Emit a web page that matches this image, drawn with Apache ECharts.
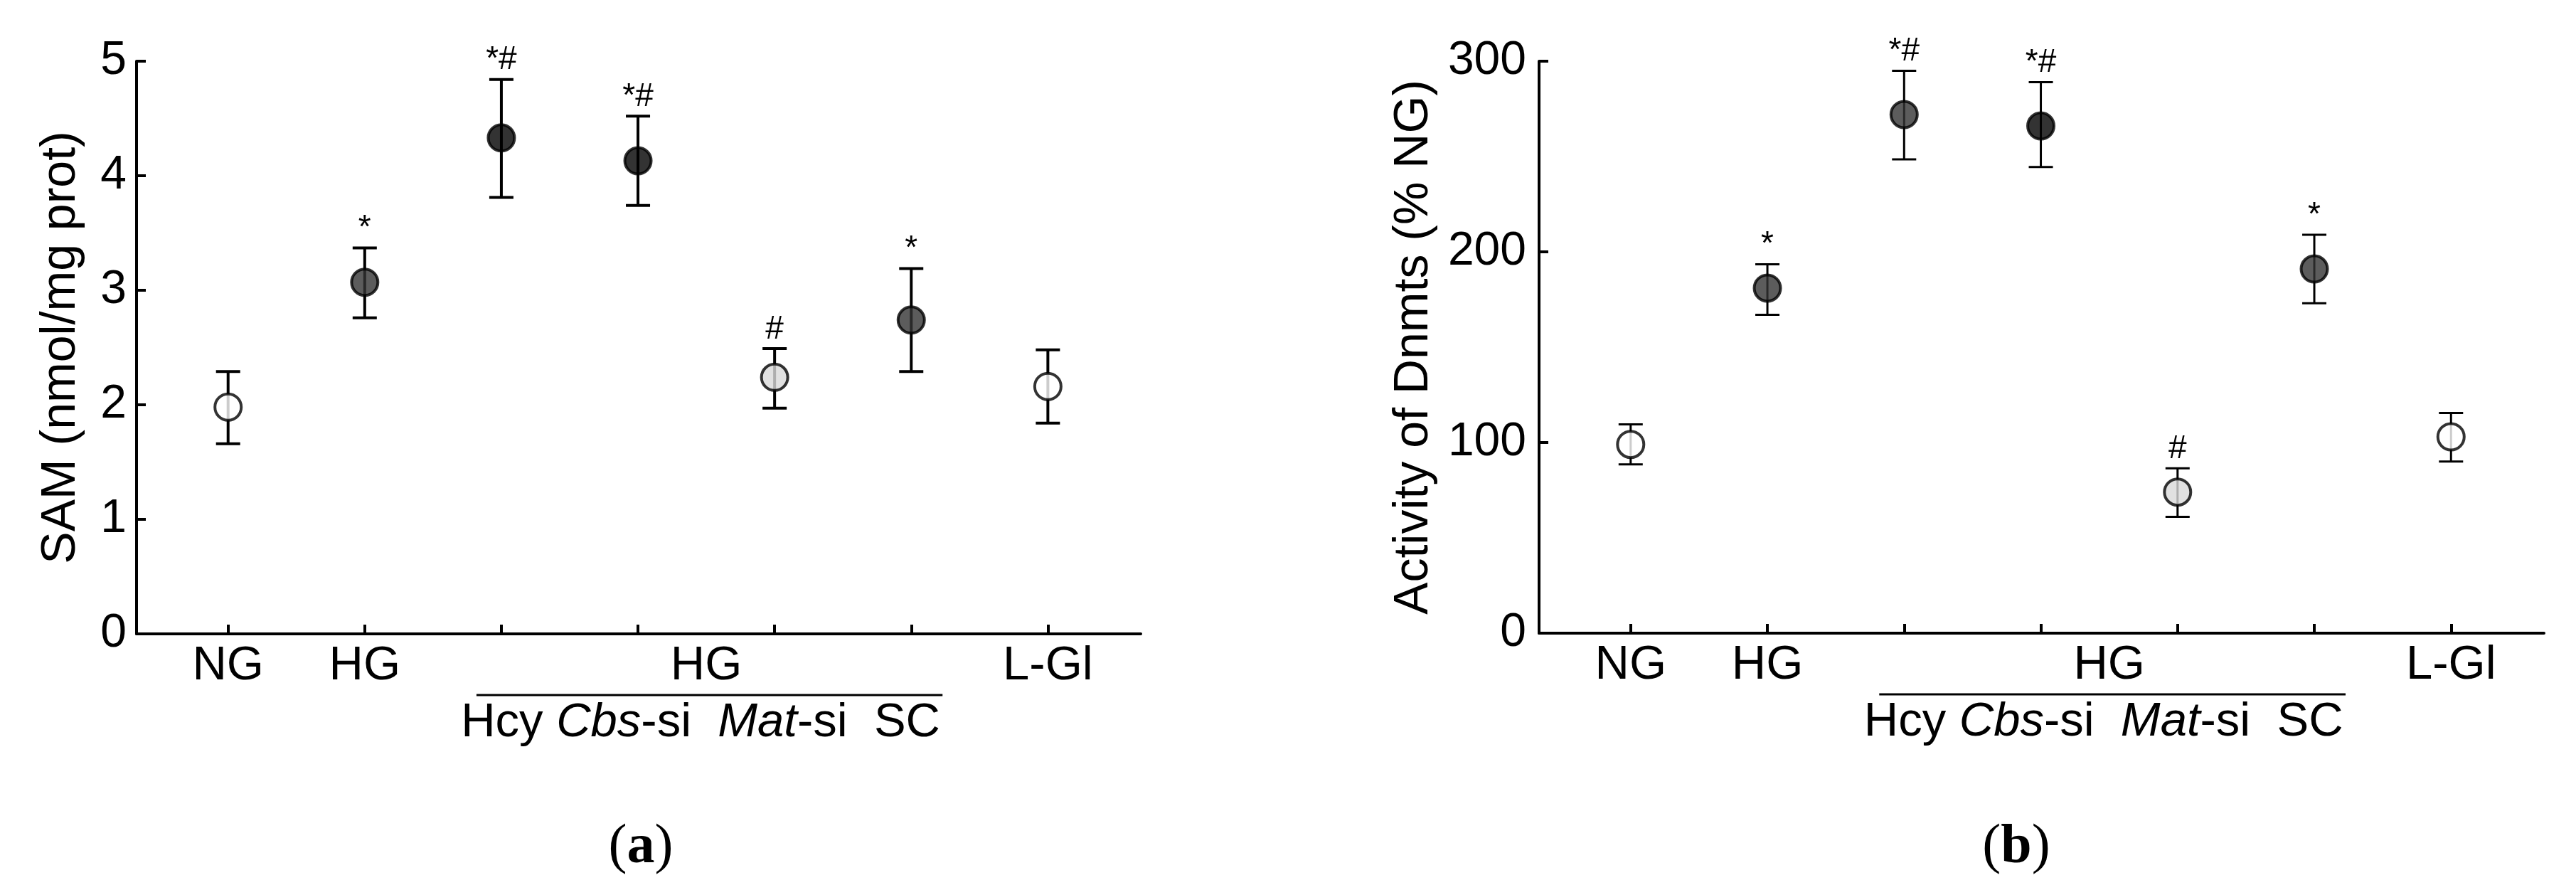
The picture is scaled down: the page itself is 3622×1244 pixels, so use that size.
<!DOCTYPE html>
<html>
<head>
<meta charset="utf-8">
<script src="https://cdn.jsdelivr.net/npm/echarts@6/dist/echarts.min.js"></script>
<style>
  html, body { margin: 0; padding: 0; background: #fff; }
  #chart { width: 3622px; height: 1244px; }
</style>
</head>
<body>
<div id="chart"></div>
<script>
// groups on the x axis (0..6)
const groups = ["NG", "HG", "Hcy", "Cbs-si", "Mat-si", "SC", "L-Gl"];
const tickValues = [0, 1, 2, 3, 4, 5, 6];
const labelValues = [0, 1, 3.5, 6];
const labelTexts = ["NG", "HG", "HG", "L-Gl"];
const marks = ["", "*", "*#", "*#", "#", "*", ""];

// (a) SAM (nmol/mg prot)
const samMean = [1.98, 3.07, 4.33, 4.13, 2.24, 2.74, 2.16];
const samLow = [1.66, 2.76, 3.81, 3.74, 1.97, 2.29, 1.84];
const samHigh = [2.29, 3.37, 4.84, 4.52, 2.49, 3.19, 2.48];
const samColors = ["#ffffff", "#333333", "#000000", "#000000", "#d9d9d9", "#333333", "#ffffff"];
const samTicks = [0, 1, 2, 3, 4, 5];

// (b) Activity of Dnmts (% NG)
const dnmtMean = [99, 181, 272, 266, 74, 191, 103];
const dnmtLow = [88.5, 167, 248.5, 244.5, 61, 173, 90];
const dnmtHigh = [109.5, 193.5, 295, 289, 86.5, 209, 115.5];
const dnmtColors = ["#ffffff", "#333333", "#333333", "#000000", "#d9d9d9", "#333333", "#ffffff"];
const dnmtTicks = [0, 100, 200, 300];

const FONT = "Liberation Sans, Arial, sans-serif";

const chart = echarts.init(document.getElementById("chart"));

function xAxisFor(gridIndex) {
  return {
    type: "value",
    gridIndex: gridIndex,
    min: -0.67,
    max: 6.68,
    splitLine: { show: false },
    axisLine: { onZero: false, lineStyle: { color: "#000", width: 4 } },
    axisTick: {
      inside: true,
      length: 13,
      customValues: tickValues,
      lineStyle: { color: "#000", width: 4 },
    },
    axisLabel: {
      customValues: labelValues,
      margin: 12,
      color: "#000",
      fontFamily: FONT,
      fontSize: 67,
      formatter: (v) => labelTexts[labelValues.indexOf(v)] || "",
    },
  };
}

function yAxisFor(gridIndex, ticks, name, nameGap, labelMargin) {
  return {
    type: "value",
    gridIndex: gridIndex,
    min: ticks[0],
    max: ticks[ticks.length - 1],
    interval: ticks[1] - ticks[0],
    name: name,
    nameLocation: "middle",
    nameGap: nameGap,
    nameTextStyle: { color: "#000", fontFamily: FONT, fontSize: 68 },
    splitLine: { show: false },
    axisLine: { onZero: false, lineStyle: { color: "#000", width: 4 } },
    axisTick: { inside: true, length: 13, lineStyle: { color: "#000", width: 4 } },
    axisLabel: { margin: labelMargin, color: "#000", fontFamily: FONT, fontSize: 66 },
  };
}

function errorSeries(axisIndex, low, high, lineWidth) {
  return {
    type: "custom",
    xAxisIndex: axisIndex,
    yAxisIndex: axisIndex,
    z: 2,
    silent: true,
    data: groups.map((g, i) => [i, low[i], high[i]]),
    encode: { x: 0, y: [1, 2] },
    renderItem: function (params, api) {
      const i = api.value(0);
      const top = api.coord([i, api.value(2)]);
      const bot = api.coord([i, api.value(1)]);
      const cap = 17;
      const style = { stroke: "#000", lineWidth: lineWidth };
      const children = [
        { type: "line", shape: { x1: top[0], y1: top[1], x2: bot[0], y2: bot[1] }, style: style },
        { type: "line", shape: { x1: top[0] - cap, y1: top[1], x2: top[0] + cap, y2: top[1] }, style: style },
        { type: "line", shape: { x1: bot[0] - cap, y1: bot[1], x2: bot[0] + cap, y2: bot[1] }, style: style },
      ];
      const m = marks[params.dataIndex];
      if (m) {
        children.push({
          type: "text",
          style: {
            text: m,
            x: top[0],
            y: top[1] - 4,
            align: "center",
            verticalAlign: "bottom",
            fill: "#000",
            font: "46px " + FONT,
          },
        });
      }
      return { type: "group", children: children };
    },
  };
}

function pointSeries(axisIndex, mean, colors) {
  return {
    type: "scatter",
    xAxisIndex: axisIndex,
    yAxisIndex: axisIndex,
    z: 3,
    symbol: "circle",
    symbolSize: 37,
    silent: true,
    data: mean.map((v, i) => ({
      value: [i, v],
      itemStyle: { color: colors[i], borderColor: "#000", borderWidth: 4 },
    })),
  };
}

// bracket line and sub-group names under the shared "HG" label
function bracketSeries(axisIndex) {
  return {
    type: "custom",
    xAxisIndex: axisIndex,
    yAxisIndex: axisIndex,
    silent: true,
    clip: false,
    data: [[2, 5]],
    renderItem: function (params, api) {
      const p0 = api.coord([api.value(0), 0]);
      const p1 = api.coord([api.value(1), 0]);
      const y = p0[1] + 86;
      return {
        type: "group",
        children: [
          {
            type: "line",
            shape: { x1: p0[0] - 35, y1: y, x2: p1[0] + 44, y2: y },
            style: { stroke: "#000", lineWidth: 3 },
          },
          {
            type: "text",
            style: {
              text: "{n|Hcy\u00a0}{i|Cbs}{n|-si\u00a0\u00a0}{i|Mat}{n|-si\u00a0\u00a0SC}",
              x: (p0[0] + p1[0]) / 2 - 8,
              y: y + 6,
              align: "center",
              verticalAlign: "top",
              rich: {
                n: { fontFamily: FONT, fontSize: 67, fill: "#000" },
                i: { fontFamily: FONT, fontSize: 67, fontStyle: "italic", fill: "#000" },
              },
            },
          },
        ],
      };
    },
  };
}

function panelTitle(letter, left) {
  return {
    text: "{p|(}{b|" + letter + "}{p|)}",
    left: left,
    top: 1148,
    textAlign: "center",
    textStyle: {
      rich: {
        p: { fontFamily: "Liberation Serif, serif", fontSize: 78, fontWeight: "normal", color: "#000" },
        b: { fontFamily: "Liberation Serif, serif", fontSize: 78, fontWeight: "bold", color: "#000" },
      },
    },
  };
}

chart.setOption({
  backgroundColor: "#fff",
  animation: false,
  title: [panelTitle("a", 896), panelTitle("b", 2830)],
  grid: [
    { left: 192, top: 86, width: 1412, height: 805 },
    { left: 2164, top: 86, width: 1413, height: 804 },
  ],
  xAxis: [xAxisFor(0), xAxisFor(1)],
  yAxis: [
    yAxisFor(0, samTicks, "SAM (nmol/mg prot)", 72, 14),
    yAxisFor(1, dnmtTicks, "Activity of Dnmts (% NG)", 142, 18),
  ],
  series: [
    errorSeries(0, samLow, samHigh, 4),
    pointSeries(0, samMean, samColors),
    bracketSeries(0),
    errorSeries(1, dnmtLow, dnmtHigh, 3),
    pointSeries(1, dnmtMean, dnmtColors),
    bracketSeries(1),
  ],
});

window.addEventListener("resize", () => chart.resize());
</script>
</body>
</html>
